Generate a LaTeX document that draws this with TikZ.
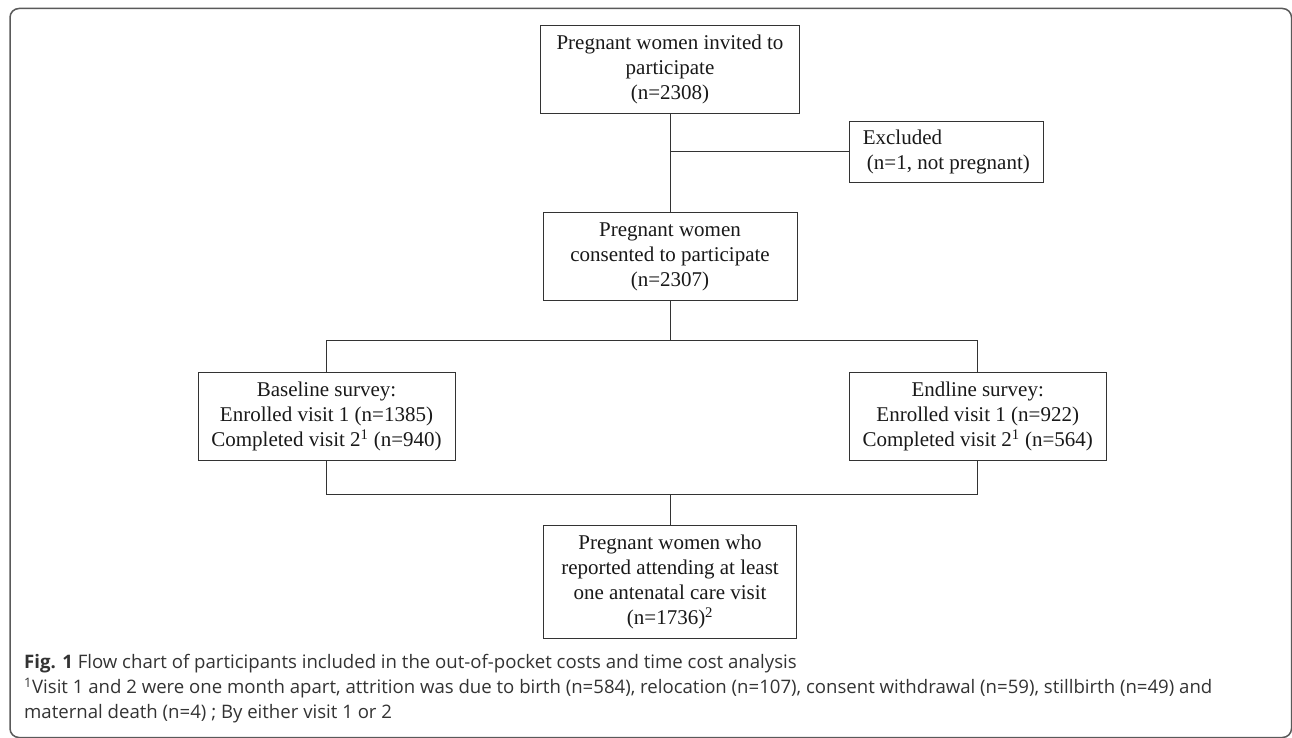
\documentclass[tikz,border=0pt]{standalone}
\usepackage{fontspec}
\setmainfont{Liberation Serif}
\newfontfamily\capfont{Open Sans}
\definecolor{boxline}{HTML}{333333}
\definecolor{frameline}{HTML}{5A5A5A}
\definecolor{captext}{HTML}{333333}
\tikzset{
  flowbox/.style={draw=boxline, line width=1pt, inner sep=0pt, align=center,
    font=\fontsize{21}{25}\selectfont, text=black!90},
  conn/.style={draw=boxline, line width=1pt},
  captxt/.style={anchor=west, inner sep=0pt, align=left,
    font=\capfont\fontsize{18.6}{25}\selectfont, text=captext}
}
\begin{document}
\begin{tikzpicture}[x=1pt,y=-1pt]
\useasboundingbox (0,0) rectangle (1292,738);
\fill[white] (0,0) rectangle (1292,738);
\draw[frameline, line width=1.5pt, rounded corners=9pt] (10,8.5) rectangle (1291.5,737.5);

\node[flowbox, minimum width=258.6pt, minimum height=88.3pt] (b1) at (670,69.2)
  {Pregnant women invited to\\participate\\(n=2308)};
\node[flowbox, align=left, inner xsep=10pt, minimum width=194pt, minimum height=61.4pt] (exc) at (946.3,152)
  {Excluded\\\hspace*{0.2em}(n=1, not pregnant)};
\node[flowbox, minimum width=254pt, minimum height=87.6pt] (b2) at (670,256.5)
  {Pregnant women\\consented to participate\\(n=2307)};
\node[flowbox, minimum width=257pt, minimum height=88pt] (base) at (326.5,416.7)
  {Baseline survey:\\Enrolled visit 1 (n=1385)\\Completed visit 2\textsuperscript{1} (n=940)};
\node[flowbox, minimum width=256.7pt, minimum height=88pt] (end) at (977.7,416.7)
  {Endline survey:\\Enrolled visit 1 (n=922)\\Completed visit 2\textsuperscript{1} (n=564)};
\node[flowbox, minimum width=253.6pt, minimum height=113.3pt] (b3) at (670,582.3)
  {Pregnant women who\\reported attending at least\\one antenatal care visit\\(n=1736)\textsuperscript{2}};

\coordinate (fork) at (670,340.5);
\coordinate (join) at (670,494.7);

\draw[conn] (b1.south) -- (b2.north);
\draw[conn] (exc.west) -- (exc.west -| b1.south);
\draw[conn] (b2.south) -- (fork);
\draw[conn] (base.north) |- (fork) -| (end.north);
\draw[conn] (base.south) |- (join) -| (end.south);
\draw[conn] (join) -- (b3.north);

\node[captxt] (cap) at (24,664)
  {\textbf{Fig. 1} Flow chart of participants included in the out-of-pocket costs and time cost analysis};
\node[captxt, anchor=north west] (fn) at (24,678)
  {\textsuperscript{1}Visit 1 and 2 were one month apart, attrition was due to birth (n=584), relocation (n=107), consent withdrawal (n=59), stillbirth (n=49) and\\
   maternal death (n=4) ; By either visit 1 or 2};
\end{tikzpicture}
\end{document}
